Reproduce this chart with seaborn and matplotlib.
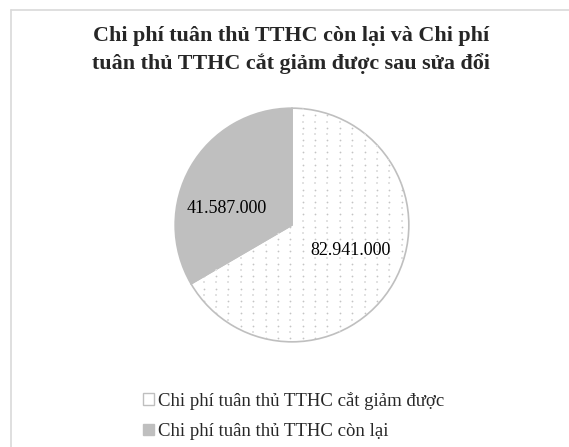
import matplotlib
matplotlib.use("Agg")
import matplotlib.pyplot as plt
import seaborn as sns
import numpy as np
from matplotlib.patches import Patch
from matplotlib.lines import Line2D

categories = ["Chi phí tuân thủ TTHC cắt giảm được", "Chi phí tuân thủ TTHC còn lại"]
values = [82941000, 41587000]
value_labels = ["82.941.000", "41.587.000"]
title = "Chi phí tuân thủ TTHC còn lại và Chi phí\ntuân thủ TTHC cắt giảm được sau sửa đổi"

sns.set_theme(style="white")
plt.rcParams["font.family"] = ["Liberation Serif", "DejaVu Serif"]

fig = plt.figure(figsize=(5.69, 4.47), dpi=100)
fig.patch.set_facecolor("white")

# chart area border (top & left visible)
fig.add_artist(Line2D([11 / 569, 11 / 569], [0, 1 - 10 / 447], color="#d9d9d9", lw=1.2))
fig.add_artist(Line2D([11 / 569, 1], [1 - 10 / 447, 1 - 10 / 447], color="#d9d9d9", lw=1.2))

cx, cy, r = 292 / 569, 1 - 225 / 447, 118
w, h = 2 * r / 569, 2 * r / 447
ax = fig.add_axes([cx - w / 2, cy - h / 2, w, h])

colors = ["white", "#bfbfbf"]
lab_iter = iter(value_labels)
wedges, texts, autotexts = ax.pie(
    values, colors=colors, startangle=90, counterclock=False,
    autopct=lambda p: next(lab_iter), pctdistance=0.56,
    wedgeprops=dict(edgecolor="#bfbfbf", linewidth=1.2),
    textprops=dict(fontsize=13, color="black"),
)
# label placement (Excel best-fit style)
autotexts[0].set_position((0.50, -0.22))
autotexts[1].set_position((-0.56, 0.14))

# dotted texture for the white wedge
step = 12.5 / r
g = np.arange(-1.0, 1.0 + step, step)
gx, gy = np.meshgrid(g, g)
ax.scatter(gx.ravel() + step * 0.3, gy.ravel() + step * 0.3, s=1.6, color="#c4c4c4",
           linewidths=0, clip_path=wedges[0], zorder=1.5)
ax.scatter(gx.ravel() + step * 0.3, gy.ravel() - step * 0.2, s=0.6, marker="s", color="#e2e2e2",
           linewidths=0, clip_path=wedges[0], zorder=1.5)
for t in autotexts:
    t.set_zorder(3)

ax.set_xlim(-1.01, 1.01)
ax.set_ylim(-1.01, 1.01)
ax.set_aspect("equal")
ax.axis("off")

fig.text(0.512, 1 - 50 / 447, title, ha="center", va="center",
         fontsize=15.8, fontweight="bold", linespacing=1.4)

handles = [Patch(facecolor="white", edgecolor="#bfbfbf", linewidth=1.0),
           Patch(facecolor="#bfbfbf", edgecolor="#bfbfbf", linewidth=1.0)]
fig.legend(handles, categories, loc="center", bbox_to_anchor=(0.516, 1 - 416 / 447),
           frameon=False, fontsize=13.5, handlelength=0.55, handleheight=0.55,
           handletextpad=0.2, labelspacing=0.72, borderaxespad=0, borderpad=0)

fig.savefig("out.png", dpi=100, facecolor="white")
